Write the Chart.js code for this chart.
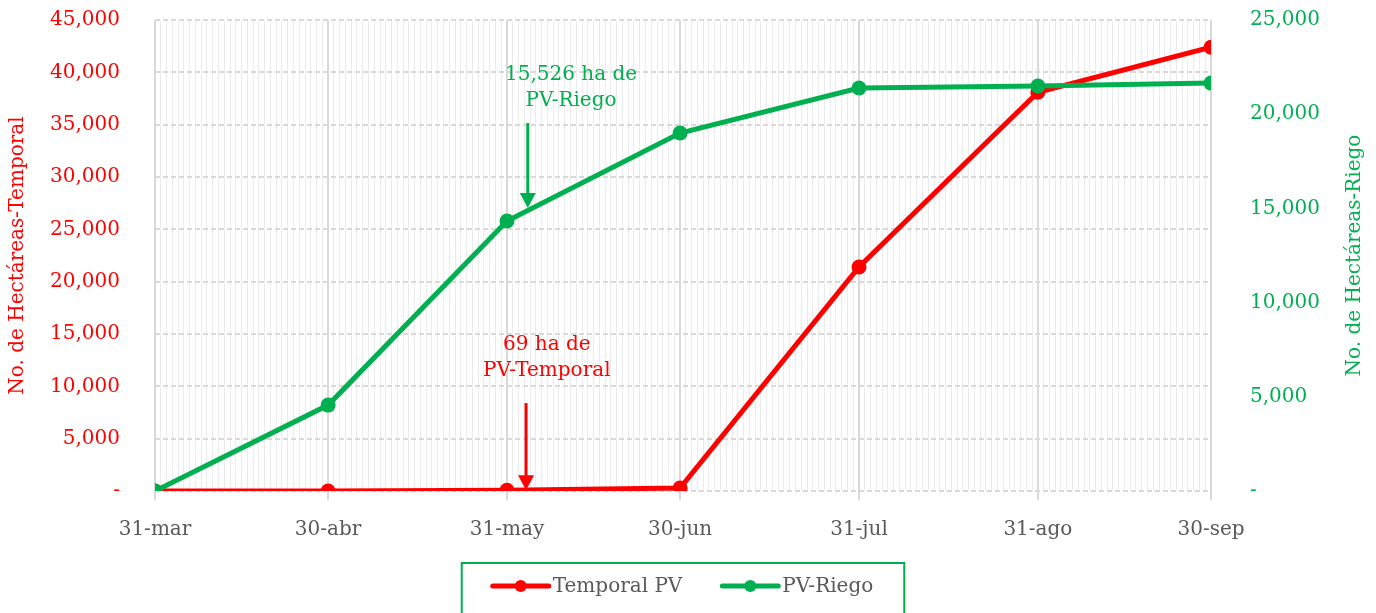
<!DOCTYPE html>
<html lang="es">
<head>
<meta charset="utf-8">
<title>Hectáreas PV</title>
<script src="https://cdn.jsdelivr.net/npm/chart.js@4.4.1/dist/chart.umd.min.js"></script>
<style>
  html, body { margin: 0; padding: 0; background: #fff; }
  #wrap { position: relative; width: 1376px; height: 613px; }
</style>
</head>
<body>
<div id="wrap"><canvas id="grafica"></canvas></div>
<script>
// Fechas de corte (días contados desde el 31 de marzo) y sus etiquetas
const fechas = ['31-mar', '30-abr', '31-may', '30-jun', '31-jul', '31-ago', '30-sep'];
const dias = [0, 30, 61, 91, 122, 153, 183];

// Hectáreas acumuladas por serie
const temporalPV = [0, 0, 69, 290, 21400, 38100, 42400];
const pvRiego = [0, 4560, 14330, 19000, 21390, 21500, 21650];

// Marcas de los ejes
const ticksTemporal = [0, 5000, 10000, 15000, 20000, 25000, 30000, 35000, 40000, 45000];
const ticksRiego = [0, 5000, 10000, 15000, 20000, 25000];

// Textos de las notas
const notaRiego = ['15,526 ha de', 'PV-Riego'];
const notaTemporal = ['69 ha de', 'PV-Temporal'];

const ROJO = '#ff0000';
const VERDE = '#00b050';
const GRIS = '#595959';
const FUENTE = "'DejaVu Serif', serif";

Chart.defaults.font.family = FUENTE;
Chart.defaults.font.size = 20;

function formato(v) {
    return v === 0 ? '-' : v.toLocaleString('en-US');
}

function aPuntos(serie) {
    return serie.map((v, i) => ({ x: dias[i], y: v }));
}

// Dibuja un texto de varias líneas centrado en x
function dibujaNota(ctx, x, ys, lineas, color) {
    ctx.save();
    ctx.fillStyle = color;
    ctx.font = '20px ' + FUENTE;
    ctx.textAlign = 'center';
    ctx.textBaseline = 'middle';
    lineas.forEach((t, i) => ctx.fillText(t, x, ys[i]));
    ctx.restore();
}

// Flecha vertical hacia abajo
function dibujaFlecha(ctx, x, yIni, yFin, color) {
    ctx.save();
    ctx.strokeStyle = color;
    ctx.fillStyle = color;
    ctx.lineWidth = 3;
    ctx.beginPath();
    ctx.moveTo(x, yIni);
    ctx.lineTo(x, yFin - 12);
    ctx.stroke();
    ctx.beginPath();
    ctx.moveTo(x - 8, yFin - 15);
    ctx.lineTo(x + 8, yFin - 15);
    ctx.lineTo(x, yFin);
    ctx.closePath();
    ctx.fill();
    ctx.restore();
}

const notas = {
    id: 'notas',
    afterDatasetsDraw(chart) {
        const { ctx, scales } = chart;
        const x = scales.x, yT = scales.yT, yR = scales.yR;
        dibujaNota(ctx, x.getPixelForValue(72.1), [yR.getPixelForValue(22080), yR.getPixelForValue(20700)], notaRiego, VERDE);
        dibujaFlecha(ctx, x.getPixelForValue(64.6), yR.getPixelForValue(19530), yR.getPixelForValue(15020), VERDE);
        dibujaNota(ctx, x.getPixelForValue(67.9), [yT.getPixelForValue(13950), yT.getPixelForValue(11470)], notaTemporal, ROJO);
        dibujaFlecha(ctx, x.getPixelForValue(64.3), yT.getPixelForValue(8400), yT.getPixelForValue(60), ROJO);
    }
};

// Títulos de los ejes y leyenda con recuadro
const extras = {
    id: 'extras',
    afterDraw(chart) {
        const { ctx, chartArea } = chart;
        const yc = (chartArea.top + chartArea.bottom) / 2;
        ctx.save();
        ctx.font = '20px ' + FUENTE;
        ctx.textAlign = 'center';
        ctx.textBaseline = 'middle';
        [[18, 'No. de Hectáreas-Temporal', ROJO], [1355, 'No. de Hectáreas-Riego', VERDE]].forEach(([tx, t, c]) => {
            ctx.save();
            ctx.translate(tx, yc);
            ctx.rotate(-Math.PI / 2);
            ctx.fillStyle = c;
            ctx.fillText(t, 0, 0);
            ctx.restore();
        });

        // leyenda
        const items = chart.data.datasets.map(d => ({ t: d.label, c: d.borderColor }));
        const linea = 56, sep = 4, hueco = 40, margen = 31;
        const anchos = items.map(it => linea + sep + ctx.measureText(it.t).width);
        const total = anchos.reduce((a, b) => a + b, 0) + hueco * (items.length - 1);
        const cx = (chartArea.left + chartArea.right) / 2;
        let lx = cx - total / 2;
        const ly = 586;
        ctx.strokeStyle = VERDE;
        ctx.lineWidth = 2;
        ctx.strokeRect(lx - margen, 563, total + margen * 2, 70);
        ctx.textAlign = 'left';
        items.forEach((it, i) => {
            ctx.strokeStyle = it.c;
            ctx.fillStyle = it.c;
            ctx.lineWidth = 5;
            ctx.lineCap = 'round';
            ctx.beginPath();
            ctx.moveTo(lx, ly);
            ctx.lineTo(lx + linea, ly);
            ctx.stroke();
            ctx.beginPath();
            ctx.arc(lx + linea / 2, ly, 6, 0, Math.PI * 2);
            ctx.fill();
            ctx.fillStyle = GRIS;
            ctx.fillText(it.t, lx + linea + sep, ly + 1);
            lx += anchos[i] + hueco;
        });
        ctx.restore();
    }
};

const todosLosDias = [];
for (let d = dias[0]; d <= dias[dias.length - 1]; d++) todosLosDias.push(d);

function sinRelleno(s) {
    s.paddingTop = 0;
    s.paddingBottom = 0;
    s.paddingLeft = 0;
    s.paddingRight = 0;
}

const grafica = new Chart(document.getElementById('grafica'), {
    type: 'line',
    data: {
        datasets: [{
            label: 'Temporal PV',
            data: aPuntos(temporalPV),
            yAxisID: 'yT',
            borderColor: ROJO,
            backgroundColor: ROJO,
            borderWidth: 5,
            pointRadius: 7.5,
            pointBorderWidth: 0,
            pointHoverRadius: 7.5,
            order: 2
        }, {
            label: 'PV-Riego',
            data: aPuntos(pvRiego),
            yAxisID: 'yR',
            borderColor: VERDE,
            backgroundColor: VERDE,
            borderWidth: 5,
            pointRadius: 7.5,
            pointBorderWidth: 0,
            pointHoverRadius: 7.5,
            order: 1
        }]
    },
    options: {
        responsive: true,
        maintainAspectRatio: false,
        animation: false,
        layout: { padding: { top: 20, bottom: 0, left: 0, right: 0 } },
        plugins: {
            legend: { display: false },
            tooltip: { enabled: false }
        },
        scales: {
            x: {
                type: 'linear',
                min: dias[0],
                max: dias[dias.length - 1],
                afterBuildTicks: s => { s.ticks = todosLosDias.map(v => ({ value: v })); },
                afterFit: s => { s.height = 122; sinRelleno(s); },
                ticks: {
                    autoSkip: false,
                    maxRotation: 0,
                    color: GRIS,
                    padding: 18,
                    callback: v => {
                        const i = dias.indexOf(v);
                        return i >= 0 ? fechas[i] : '';
                    }
                },
                grid: {
                    color: c => dias.includes(c.tick.value) ? '#d9d9d9' : '#ececec',
                    lineWidth: c => dias.includes(c.tick.value) ? 2 : 1,
                    tickColor: c => dias.includes(c.tick.value) ? '#d9d9d9' : 'rgba(0,0,0,0)',
                    tickLength: 9
                },
                border: { display: false }
            },
            yT: {
                position: 'left',
                min: 0,
                max: 45000,
                afterBuildTicks: s => { s.ticks = ticksTemporal.map(v => ({ value: v })); },
                afterFit: s => { s.width = 155; sinRelleno(s); },
                ticks: { color: ROJO, padding: 35, callback: formato },
                grid: { color: '#d9d9d9', lineWidth: 2, drawTicks: false },
                border: { display: false, dash: [5, 3] }
            },
            yR: {
                position: 'right',
                min: 0,
                max: 25000,
                afterBuildTicks: s => { s.ticks = ticksRiego.map(v => ({ value: v })); },
                afterFit: s => { s.width = 165; sinRelleno(s); },
                ticks: { color: VERDE, padding: 39, callback: formato },
                grid: { display: false, drawTicks: false },
                border: { display: false }
            }
        }
    },
    plugins: [notas, extras]
});
</script>
</body>
</html>
